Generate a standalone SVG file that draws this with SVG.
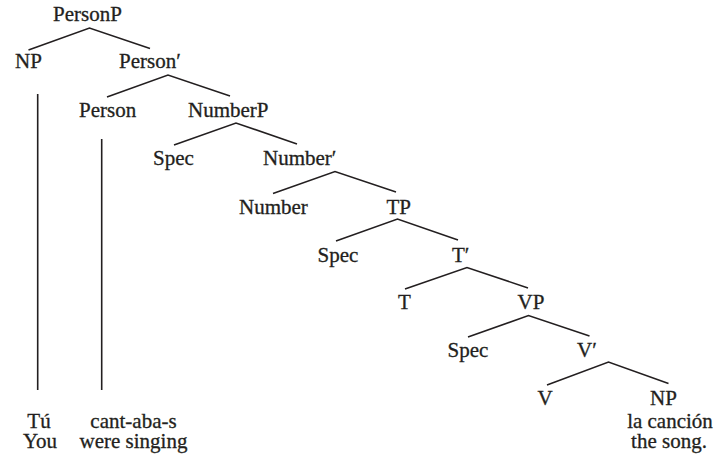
<svg xmlns="http://www.w3.org/2000/svg" width="714" height="456" viewBox="0 0 714 456">
<style>
  text { font-family: 'Liberation Serif', 'DejaVu Serif', serif; font-size: 21px; fill: #231f20; stroke: #231f20; stroke-width: 0.3; }
  .m { text-anchor: middle; }
  #connectors line, #connectors polyline { stroke: #231f20; stroke-width: 1.6; fill: none; }
</style>
<rect width="714" height="456" fill="#ffffff"/>
<g id="connectors">
  <polyline points="28.5,50 89.5,28 150,48.5"/>
  <polyline points="107,97 168,75 230,96"/>
  <polyline points="174,145 236,123 297,144"/>
  <polyline points="273,193.5 335,171.5 396,192"/>
  <polyline points="336,241 397.5,219 458,240"/>
  <polyline points="405,289 467,267.5 528,288"/>
  <polyline points="468,337 528.5,315.5 589.5,336"/>
  <polyline points="547,385 608.5,362 668.5,383.5"/>
  <line x1="37.7" y1="94" x2="37.7" y2="390"/>
  <line x1="101.7" y1="139" x2="101.7" y2="390"/>
</g>
<g id="n-PersonP"><text x="53" y="21">PersonP</text></g>
<g id="n-NP1"><text x="15" y="68">NP</text></g>
<g id="n-PersonBar"><text x="119" y="68">Person′</text></g>
<g id="n-Person"><text x="79" y="117">Person</text></g>
<g id="n-NumberP"><text x="188" y="117">NumberP</text></g>
<g id="n-Spec1"><text x="153" y="165">Spec</text></g>
<g id="n-NumberBar"><text x="263" y="165">Number′</text></g>
<g id="n-Number"><text x="239" y="214">Number</text></g>
<g id="n-TP"><text x="386.5" y="214">TP</text></g>
<g id="n-Spec2"><text x="317.5" y="262">Spec</text></g>
<g id="n-TBar"><text x="452" y="262">T′</text></g>
<g id="n-T"><text x="398" y="309">T</text></g>
<g id="n-VP"><text x="517.5" y="309">VP</text></g>
<g id="n-Spec3"><text x="447.5" y="357">Spec</text></g>
<g id="n-VBar"><text x="577" y="357">V′</text></g>
<g id="n-V"><text x="537.5" y="404.5">V</text></g>
<g id="n-NP2">
  <text x="650" y="404.5">NP</text>
  <text class="m" x="670" y="427.5">la canción</text>
  <text class="m" x="669" y="447.5">the song.</text>
</g>
<g id="w-Tu">
  <text class="m" x="39" y="427.5">Tú</text>
  <text class="m" x="40" y="447.5">You</text>
</g>
<g id="w-cantabas">
  <text class="m" x="133.5" y="427.5">cant-aba-s</text>
  <text class="m" x="133.5" y="447.5">were singing</text>
</g>
</svg>
